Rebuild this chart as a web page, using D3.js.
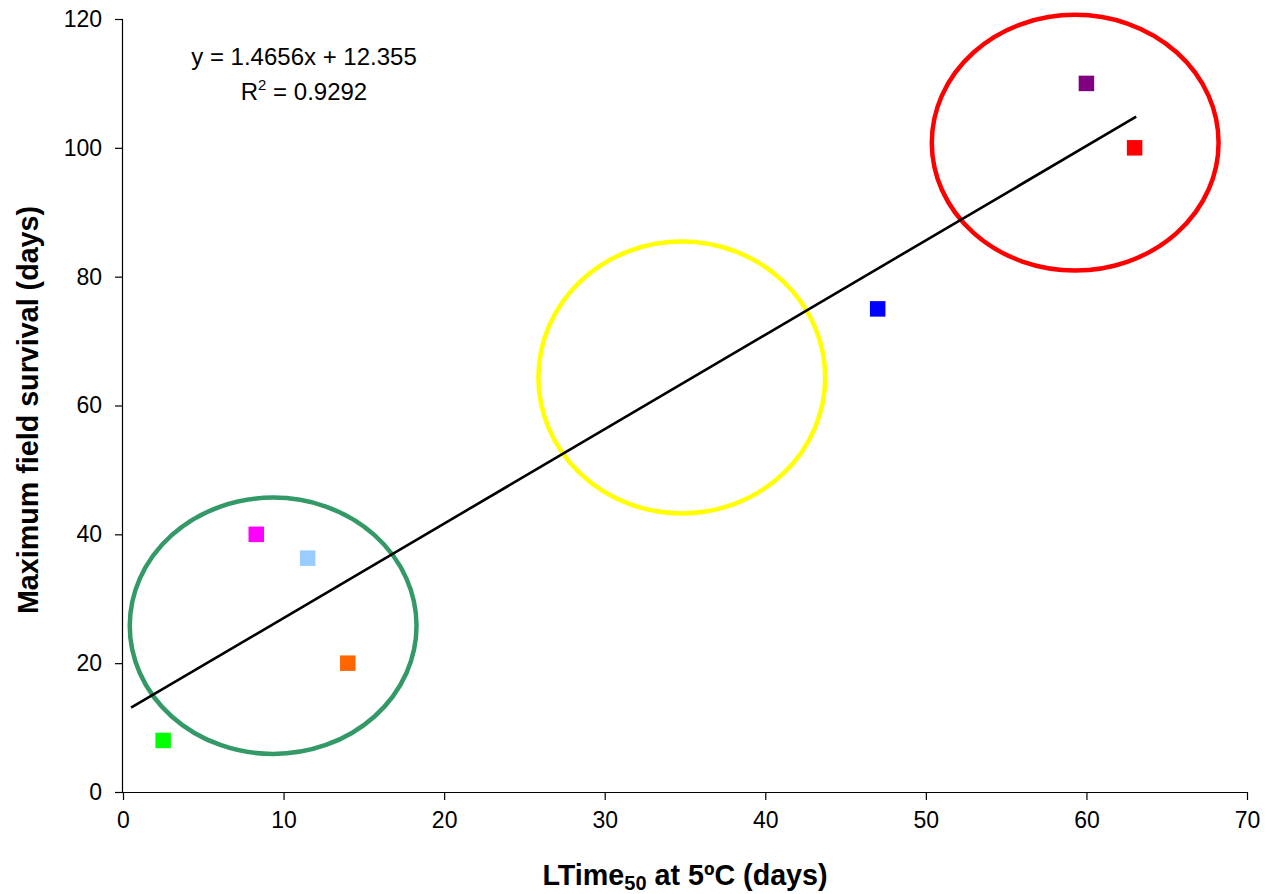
<!DOCTYPE html>
<html>
<head>
<meta charset="utf-8">
<script src="https://cdn.jsdelivr.net/npm/d3@7"></script>
<style>
  html, body { margin: 0; padding: 0; background: #fff; }
  svg { display: block; font-family: "Liberation Sans", Arial, sans-serif; }
</style>
</head>
<body>
<svg id="chart" width="1269" height="894"></svg>
<script>
// ---- data ----
const xValues = [2.5, 8.3, 11.5, 14.0, 47.0, 60.0, 63.0];
const yValues = [8.0, 40.0, 36.3, 20.0, 75.0, 110.0, 100.0];
const pointColors = ["#00FF00", "#FF00FF", "#99CCFF", "#FF6600", "#0000FF", "#800080", "#FF0000"];
const xTicks = [0, 10, 20, 30, 40, 50, 60, 70];
const yTicks = [0, 20, 40, 60, 80, 100, 120];
const trendSlope = 1.4656;
const trendIntercept = 12.355;
const trendRange = [0.5, 63.1];
// group ellipses in data units: centre x, centre y, radius x, radius y
const groupCx = [9.35, 34.8, 59.3];
const groupCy = [25.8, 64.35, 100.8];
const groupRx = [8.93, 8.93, 8.93];
const groupRy = [19.9, 21.1, 19.85];
const groupColors = ["#339966", "#FFFF00", "#FF0000"];

(function () {
const svg = d3.select("#chart");
const mLeft = 123, mRight = 1247, mTop = 19, mBottom = 792;

const x = d3.scaleLinear().domain([0, 70]).range([mLeft, mRight]);
const y = d3.scaleLinear().domain([0, 120]).range([mBottom, mTop]);

// axes
const xAxis = d3.axisBottom(x).tickValues(xTicks).tickSize(8).tickPadding(12).tickFormat(d3.format("d"));
const yAxis = d3.axisLeft(y).tickValues(yTicks).tickSize(8).tickPadding(13).tickFormat(d3.format("d"));

const gx = svg.append("g").attr("transform", `translate(0,${mBottom})`).call(xAxis);
const gy = svg.append("g").attr("transform", `translate(${mLeft},0)`).call(yAxis);
[gx, gy].forEach(g => {
  g.select(".domain").attr("stroke", "#000").attr("stroke-width", 1.2);
  g.selectAll(".tick line").attr("stroke", "#000").attr("stroke-width", 1.2);
  g.selectAll(".tick text").attr("fill", "#000").style("font-size", "23px")
    .style("font-family", '"Liberation Sans", Arial, sans-serif');
});
gx.select(".domain").attr("d", `M${mLeft},0.5H${mRight}`);
gy.select(".domain").attr("d", `M-0.5,${mBottom}V${mTop}`);

// ellipses
svg.append("g").selectAll("ellipse").data(groupCx).join("ellipse")
  .attr("cx", (d, i) => x(d))
  .attr("cy", (d, i) => y(groupCy[i]))
  .attr("rx", (d, i) => x(groupRx[i]) - x(0))
  .attr("ry", (d, i) => y(0) - y(groupRy[i]))
  .attr("fill", "none")
  .attr("stroke", (d, i) => groupColors[i])
  .attr("stroke-width", 4.5);

// trendline
svg.append("line")
  .attr("x1", x(trendRange[0])).attr("y1", y(trendSlope * trendRange[0] + trendIntercept))
  .attr("x2", x(trendRange[1])).attr("y2", y(trendSlope * trendRange[1] + trendIntercept))
  .attr("stroke", "#000").attr("stroke-width", 2.6);

// points
const ms = 15.5;
svg.append("g").selectAll("rect").data(xValues).join("rect")
  .attr("x", (d) => x(d) - ms / 2)
  .attr("y", (d, i) => y(yValues[i]) - ms / 2)
  .attr("width", ms).attr("height", ms)
  .attr("fill", (d, i) => pointColors[i]);

// equation
const eq = svg.append("text").attr("text-anchor", "middle").style("font-size", "24px").attr("fill", "#000");
eq.append("tspan").attr("x", 304).attr("y", 65).text("y = 1.4656x + 12.355");
const eq2 = svg.append("text").attr("text-anchor", "middle").style("font-size", "24px").attr("fill", "#000")
  .attr("x", 304).attr("y", 100);
eq2.append("tspan").text("R");
eq2.append("tspan").attr("dy", -10).style("font-size", "15px").text("2");
eq2.append("tspan").attr("dy", 10).text(" = 0.9292");

// axis titles
const xt = svg.append("text").attr("text-anchor", "middle").attr("x", 685).attr("y", 885)
  .style("font-size", "28.7px").style("font-weight", "bold").attr("fill", "#000");
xt.append("tspan").text("LTime");
xt.append("tspan").attr("dy", 5).style("font-size", "20px").text("50");
xt.append("tspan").attr("dy", -5).text(" at 5ºC (days)");

svg.append("text").attr("text-anchor", "middle")
  .attr("transform", `translate(38,410) rotate(-90)`)
  .style("font-size", "28.7px").style("font-weight", "bold").attr("fill", "#000")
  .text("Maximum field survival (days)");
})();
</script>
</body>
</html>
